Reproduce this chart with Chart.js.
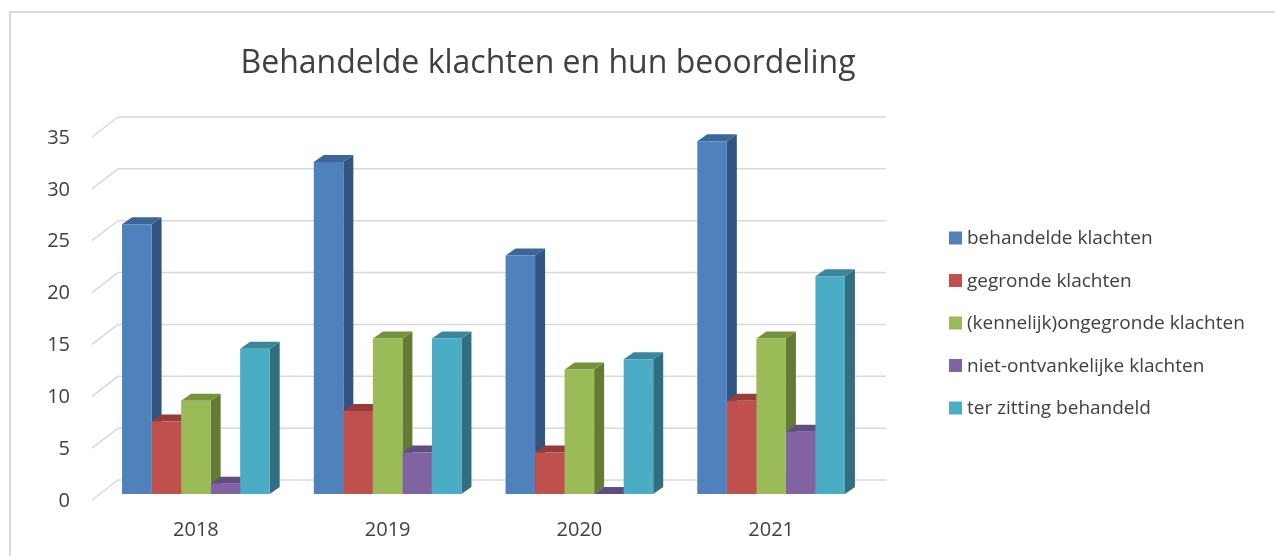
<!DOCTYPE html>
<html>
<head>
<meta charset="utf-8">
<script src="https://cdn.jsdelivr.net/npm/chart.js@4.4.0/dist/chart.umd.min.js"></script>
<style>
  html, body { margin: 0; padding: 0; background: #fff; overflow: hidden; }
  #kader { position: absolute; left: 9px; top: 11px; width: 1300px; height: 600px; border: 2px solid #d9d9d9; }
  #wrap { position: absolute; left: 0; top: 0; width: 1275px; height: 556px; }
</style>
</head>
<body>
<div id="kader"></div>
<div id="wrap"><canvas id="grafiek" width="1275" height="556"></canvas></div>
<script>
// --- DATA ---
const jaren = ['2018', '2019', '2020', '2021'];
const reeksNamen = ['behandelde klachten', 'gegronde klachten', '(kennelijk)ongegronde klachten', 'niet-ontvankelijke klachten', 'ter zitting behandeld'];
const behandeld = [26, 32, 23, 34];
const gegrond = [7, 8, 4, 9];
const ongegrond = [9, 15, 12, 15];
const nietOntvankelijk = [1, 4, 0, 6];
const terZitting = [14, 15, 13, 21];
const yMin = 0, yMax = 35, yStap = 5;
const titel = 'Behandelde klachten en hun beoordeling';

// kleuren: voorkant, bovenkant, zijkant
const voor = ['#4f81bd', '#c0504d', '#9bbb59', '#8064a2', '#4bacc6'];
const boven = ['#3c6697', '#963c3a', '#77923f', '#624d80', '#3a879b'];
const zij = ['#32557f', '#7e3331', '#647a35', '#52406b', '#316f80'];
const DX = 10, DY = 7;
const tekstKleur = '#404040';

const reeksen = [behandeld, gegrond, ongegrond, nietOntvankelijk, terZitting];

// 3D zijkanten, bovenkanten en achterwand
const diepte = {
    id: 'diepte',
    beforeDatasetsDraw(chart) {
        const ctx = chart.ctx, y = chart.scales.y;
        ctx.save();
        ctx.strokeStyle = '#d9d9d9'; ctx.lineWidth = 1.5;
        for (let v = yMin; v <= yMax; v += yStap) {
            const yf = y.getPixelForValue(v);
            ctx.beginPath();
            ctx.moveTo(92, yf + 6); ctx.lineTo(118, yf - 14); ctx.lineTo(886, yf - 14);
            ctx.stroke();
        }
        jaren.forEach((j, i) => {
            reeksen.forEach((r, d) => {
                const el = chart.getDatasetMeta(d).data[i];
                const l = el.x - el.width / 2, rr = el.x + el.width / 2, t = el.y, b = el.base;
                ctx.fillStyle = zij[d];
                ctx.beginPath();
                ctx.moveTo(rr, t); ctx.lineTo(rr + DX, t - DY); ctx.lineTo(rr + DX, b - DY); ctx.lineTo(rr, b);
                ctx.closePath(); ctx.fill();
                ctx.fillStyle = boven[d];
                ctx.beginPath();
                ctx.moveTo(l, t); ctx.lineTo(l + DX, t - DY); ctx.lineTo(rr + DX, t - DY); ctx.lineTo(rr, t);
                ctx.closePath(); ctx.fill();
            });
        });
        ctx.restore();
    },
    afterDraw(chart) {
        const ctx = chart.ctx;
        ctx.save();
        ctx.fillStyle = tekstKleur;
        ctx.font = '32px "Open Sans"';
        ctx.textAlign = 'center'; ctx.textBaseline = 'middle';
        ctx.fillText(titel, 548, 64);
        ctx.font = '19px "Open Sans"';
        ctx.textAlign = 'left';
        reeksNamen.forEach((n, k) => {
            const yc = 238 + k * 42.5;
            ctx.fillStyle = voor[k];
            ctx.fillRect(949, yc - 6.5, 13, 13);
            ctx.fillStyle = tekstKleur;
            ctx.fillText(n, 967, yc + 1);
        });
        ctx.restore();
    }
};

new Chart(document.getElementById('grafiek'), {
    type: 'bar',
    data: {
        labels: jaren,
        datasets: reeksen.map((r, d) => ({ label: reeksNamen[d], data: r, backgroundColor: voor[d], borderWidth: 0 }))
    },
    options: {
        responsive: false,
        animation: false,
        layout: { padding: { left: 0, top: 131, right: 408, bottom: 0 } },
        datasets: { bar: { categoryPercentage: 0.77, barPercentage: 1 } },
        plugins: { legend: { display: false }, title: { display: false }, tooltip: { enabled: false } },
        scales: {
            x: {
                grid: { display: false, drawTicks: false },
                border: { display: false },
                ticks: { color: tekstKleur, font: { family: 'Open Sans', size: 20 }, padding: 24 },
                afterFit: s => { s.height = 62; }
            },
            y: {
                min: yMin, max: yMax,
                grid: { display: false, drawTicks: false },
                border: { display: false },
                ticks: { stepSize: yStap, color: tekstKleur, font: { family: 'Open Sans', size: 20 }, padding: 30, labelOffset: 7 },
                afterFit: s => { s.width = 100; }
            }
        }
    },
    plugins: [diepte]
});
</script>
</body>
</html>
